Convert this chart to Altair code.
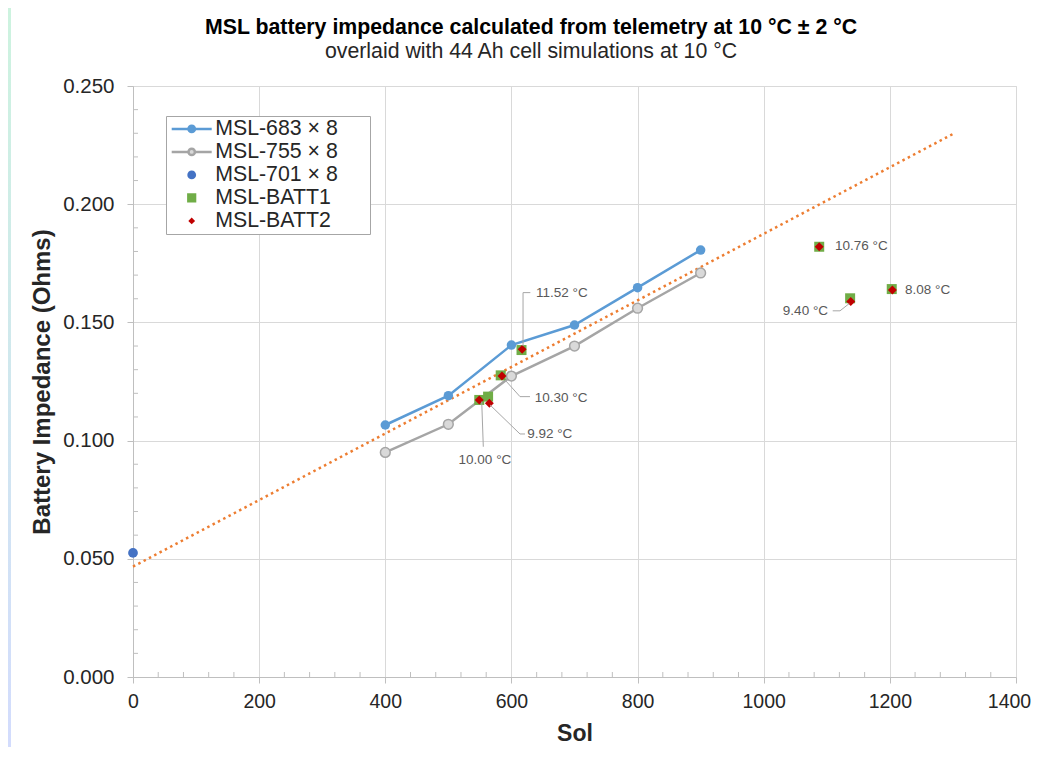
import altair as alt
import pandas as pd

FONT = "Liberation Sans"

title_text = "MSL battery impedance calculated from telemetry at 10 °C ± 2 °C"
subtitle_text = "overlaid with 44 Ah cell simulations at 10 °C"

series_names = ["MSL-683 × 8", "MSL-755 × 8", "MSL-701 × 8", "MSL-BATT1", "MSL-BATT2"]

sol_683 = [400, 500, 600, 700, 800, 900]
imp_683 = [0.1066, 0.1190, 0.1404, 0.1489, 0.1647, 0.1806]
sol_755 = [400, 500, 600, 700, 800, 900]
imp_755 = [0.0950, 0.1069, 0.1273, 0.1400, 0.1560, 0.1709]
sol_701 = [0]
imp_701 = [0.0525]
sol_batt1 = [549, 563, 583, 616, 1088, 1137, 1203]
imp_batt1 = [0.1172, 0.1186, 0.1276, 0.1383, 0.1820, 0.1602, 0.1641]
sol_batt2 = [549, 565, 585, 617, 1088, 1138, 1204]
imp_batt2 = [0.1172, 0.1158, 0.1273, 0.1386, 0.1820, 0.1588, 0.1637]
trend_sol = [0, 1300]
trend_imp = [0.0467, 0.2297]

ann_text = ["11.52 °C", "10.30 °C", "9.92 °C", "10.00 °C", "10.76 °C", "8.08 °C", "9.40 °C"]
ann_sol = [639, 637, 625, 558, 1113, 1224, 1102]
ann_imp = [0.1624, 0.1181, 0.1028, 0.0918, 0.1823, 0.1637, 0.1549]
ann_align = ["left", "left", "left", "center", "left", "left", "right"]

leader_id = [0, 0, 0, 1, 1, 1, 2, 2, 2, 3, 3, 4, 4, 4]
leader_ord = [0, 1, 2, 0, 1, 2, 0, 1, 2, 0, 1, 0, 1, 2]
leader_sol = [630, 618.4, 618.4, 590, 613.6, 629.4, 566, 613.6, 621.5, 552.9, 555.4, 1109.4, 1121, 1135.7]
leader_imp = [0.1626, 0.1626, 0.1400, 0.1256, 0.1186, 0.1186, 0.1151, 0.1028, 0.1028, 0.1165, 0.0974, 0.1549, 0.1549, 0.1580]

x_ticks = [0, 200, 400, 600, 800, 1000, 1200, 1400]
y_ticks = [0.0, 0.05, 0.10, 0.15, 0.20, 0.25]
x_minor = [v for v in range(0, 1401, 40) if v % 200 != 0]
y_minor = [round(i * 0.01, 2) for i in range(1, 25) if i % 5 != 0]

W, H = 883, 591
PAD = {"left": 125, "top": 78, "right": 15, "bottom": 70}

xs = alt.Scale(domain=[0, 1400], nice=False)
ys = alt.Scale(domain=[0, 0.25], nice=False)

x_axis = alt.Axis(values=x_ticks, title="Sol", format="d", labelFontSize=19.5, titleFontSize=23,
                  titleFontWeight="bold", grid=True, gridColor="#d9d9d9", domainColor="#bfbfbf",
                  tickColor="#bfbfbf", tickSize=6, labelPadding=9, titlePadding=12,
                  labelColor="#262626", titleColor="#262626", labelFont=FONT, titleFont=FONT,
                  labelFlush=False,
                  labelOffset={"condition": {"test": "datum.value == 1400", "value": -7}, "value": 0})
y_axis = alt.Axis(values=y_ticks, title="Battery Impedance (Ohms)", format=".3f", labelFontSize=20.5,
                  titleFontSize=24, titleFontWeight="bold", grid=True, gridColor="#d9d9d9",
                  domainColor="#bfbfbf", tickColor="#bfbfbf", tickSize=6, labelPadding=13,
                  titlePadding=8, labelColor="#262626", titleColor="#262626", labelFont=FONT,
                  titleFont=FONT, labelFlush=False)

df683 = pd.DataFrame({"sol": sol_683, "imp": imp_683})
df755 = pd.DataFrame({"sol": sol_755, "imp": imp_755})
df701 = pd.DataFrame({"sol": sol_701, "imp": imp_701})
dfb1 = pd.DataFrame({"sol": sol_batt1, "imp": imp_batt1})
dfb2 = pd.DataFrame({"sol": sol_batt2, "imp": imp_batt2})
dftr = pd.DataFrame({"sol": trend_sol, "imp": trend_imp})
dfann = pd.DataFrame({"text": ann_text, "sol": ann_sol, "imp": ann_imp, "align": ann_align})
dflead = pd.DataFrame({"id": leader_id, "ord": leader_ord, "sol": leader_sol, "imp": leader_imp})
dfxm = pd.DataFrame({"v": x_minor})
dfym = pd.DataFrame({"v": y_minor})

X = alt.X("sol:Q", scale=xs, axis=x_axis)
Y = alt.Y("imp:Q", scale=ys, axis=y_axis)

base = alt.Chart(df683).mark_point(opacity=0).encode(x=X, y=Y)

strip = alt.Chart(pd.DataFrame({"a": [0]})).mark_rect(
    fill=alt.Gradient(gradient="linear", x1=0, x2=0, y1=0, y2=1,
                      stops=[alt.GradientStop(color="#cdf3df", offset=0),
                             alt.GradientStop(color="#d3dcfd", offset=1)])
).encode(x=alt.value(-125), x2=alt.value(-122), y=alt.value(-78), y2=alt.value(H + 70))

x_minor_ticks = alt.Chart(dfxm).mark_rule(color="#bfbfbf", strokeWidth=1).encode(
    x=alt.X("v:Q", scale=xs), y=alt.value(H - 5), y2=alt.value(H))
y_minor_ticks = alt.Chart(dfym).mark_rule(color="#bfbfbf", strokeWidth=1).encode(
    y=alt.Y("v:Q", scale=ys), x=alt.value(0), x2=alt.value(5))

trend = alt.Chart(dftr).mark_line(color="#ed7d31", strokeWidth=2.5, strokeDash=[2.5, 3.5],
                                  strokeCap="butt").encode(x=alt.X("sol:Q", scale=xs),
                                                           y=alt.Y("imp:Q", scale=ys))

line683 = alt.Chart(df683).mark_line(color="#5b9bd5", strokeWidth=2.5).encode(
    x=alt.X("sol:Q", scale=xs), y=alt.Y("imp:Q", scale=ys))
pts683 = alt.Chart(df683).mark_point(filled=True, color="#5b9bd5", size=90, opacity=1).encode(
    x=alt.X("sol:Q", scale=xs), y=alt.Y("imp:Q", scale=ys))
line755 = alt.Chart(df755).mark_line(color="#a5a5a5", strokeWidth=2.5).encode(
    x=alt.X("sol:Q", scale=xs), y=alt.Y("imp:Q", scale=ys))
pts755 = alt.Chart(df755).mark_point(fill="#d9d9d9", stroke="#a5a5a5", strokeWidth=1.5, size=95,
                                     opacity=1).encode(
    x=alt.X("sol:Q", scale=xs), y=alt.Y("imp:Q", scale=ys))
pts701 = alt.Chart(df701).mark_point(filled=True, color="#4472c4", size=95, opacity=1).encode(
    x=alt.X("sol:Q", scale=xs), y=alt.Y("imp:Q", scale=ys))
ptsb1 = alt.Chart(dfb1).mark_point(filled=True, color="#70ad47", shape="square", size=100,
                                   opacity=1).encode(
    x=alt.X("sol:Q", scale=xs), y=alt.Y("imp:Q", scale=ys))
ptsb2 = alt.Chart(dfb2).mark_point(filled=True, color="#c00000", shape="diamond", size=80,
                                   opacity=1).encode(
    x=alt.X("sol:Q", scale=xs), y=alt.Y("imp:Q", scale=ys))

leaders = alt.Chart(dflead).mark_line(color="#a6a6a6", strokeWidth=1).encode(
    x=alt.X("sol:Q", scale=xs), y=alt.Y("imp:Q", scale=ys), detail="id:N", order="ord:Q")


def ann_layer(al):
    return alt.Chart(dfann).transform_filter(alt.datum.align == al).mark_text(
        align=al, baseline="middle", fontSize=13.5, font=FONT, color="#595959").encode(
        x=alt.X("sol:Q", scale=xs), y=alt.Y("imp:Q", scale=ys), text="text:N")


ann_left = ann_layer("left")
ann_center = ann_layer("center")
ann_right = ann_layer("right")

legend_paths = [
    "M-1,0H-0.16M0.16,0H1M-0.16,0A0.16,0.16,0,1,1,0.16,0A0.16,0.16,0,1,1,-0.16,0Z",
    "M-1,0H-0.16M0.16,0H1M-0.16,0A0.16,0.16,0,1,1,0.16,0A0.16,0.16,0,1,1,-0.16,0Z",
    "M-0.22,0A0.22,0.22,0,1,1,0.22,0A0.22,0.22,0,1,1,-0.22,0Z",
    "M-0.23,-0.23H0.23V0.23H-0.23Z",
    "M0,-0.17L0.17,0L0,0.17L-0.17,0Z",
]
fill_colors = ["#5b9bd5", "#d9d9d9", "#4472c4", "#70ad47", "#c00000"]
stroke_colors = ["#5b9bd5", "#a5a5a5", "transparent", "transparent", "transparent"]

leg = alt.Legend(orient="none", legendX=33, legendY=30, title="MM", titleColor="transparent",
                 titleFontSize=17, titleOrient="right", titlePadding=2, titleFont=FONT,
                 symbolSize=1600, clipHeight=22.75, rowPadding=0, padding=1.5, symbolOffset=2.7,
                 labelOffset=2, labelFontSize=21.3, labelFont=FONT, labelColor="#262626",
                 strokeColor="#a6a6a6", fillColor="white", symbolStrokeWidth=2.5, symbolOpacity=1)

legend_df = pd.DataFrame({"series": series_names})
legend_layer = alt.Chart(legend_df).transform_filter("false").mark_point(opacity=1).encode(
    fill=alt.Fill("series:N", scale=alt.Scale(domain=series_names, range=fill_colors), legend=leg),
    stroke=alt.Stroke("series:N", scale=alt.Scale(domain=series_names, range=stroke_colors),
                      legend=leg),
    shape=alt.Shape("series:N", scale=alt.Scale(domain=series_names, range=legend_paths),
                    legend=leg),
)

chart = alt.layer(
    base, strip, x_minor_ticks, y_minor_ticks, line683, line755, trend, pts683, pts755, pts701,
    ptsb1, ptsb2, leaders, ann_left, ann_center, ann_right, legend_layer
).properties(
    width=W, height=H, padding=PAD, autosize=alt.AutoSizeParams(type="none"), background="white",
    title=alt.Title(text=title_text, subtitle=subtitle_text, anchor="middle", frame="group",
                    dx=-43.5, fontSize=21.3, fontWeight="bold", font=FONT, color="#000000",
                    subtitleFontSize=21.3, subtitleFont=FONT, subtitleColor="#262626",
                    subtitleFontWeight="normal", offset=-54, subtitlePadding=2)
).configure_view(stroke=None).configure(font=FONT)

chart.save("out.html", embed_options={"renderer": "svg", "actions": False})
